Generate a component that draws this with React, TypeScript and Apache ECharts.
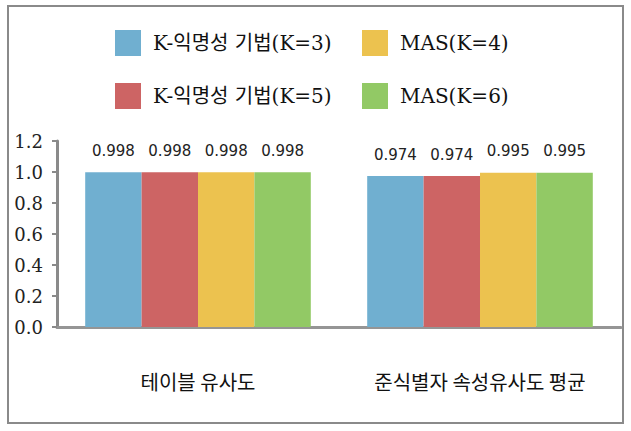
import React, { useEffect, useRef } from "react";
import * as echarts from "echarts";

const categories = ["테이블 유사도", "준식별자 속성유사도 평균"];
const seriesNames = ["K-익명성 기법(K=3)", "K-익명성 기법(K=5)", "MAS(K=4)", "MAS(K=6)"];
const k3Values = [0.998, 0.974];
const k5Values = [0.998, 0.974];
const mas4Values = [0.998, 0.995];
const mas6Values = [0.998, 0.995];
const colors = ["#70AFD0", "#CD6464", "#ECC24F", "#92C965"];

const serif = "'DejaVu Serif', 'Noto Sans CJK KR', serif";
const sans = "'DejaVu Sans', 'Noto Sans CJK KR', sans-serif";
const kr = "'Noto Sans CJK KR', sans-serif";

export default function App() {
  const ref = useRef<HTMLDivElement>(null);
  useEffect(() => {
    document.body.style.margin = "0";
    const chart = echarts.init(ref.current!, null, { renderer: "svg" });
    const values = [k3Values, k5Values, mas4Values, mas6Values];
    const legendPos = [
      { left: 115, top: 30 },
      { left: 115, top: 83 },
      { left: 362, top: 30 },
      { left: 362, top: 83 },
    ];
    chart.setOption({
      animation: false,
      backgroundColor: "#fff",
      color: colors,
      graphic: [
        {
          type: "rect",
          shape: { x: 8, y: 6, width: 615, height: 417 },
          style: { fill: "none", stroke: "#8a8a8a", lineWidth: 2 },
        },
      ],
      legend: seriesNames.map((n, i) => ({
        data: [n],
        left: legendPos[i].left,
        top: legendPos[i].top,
        itemWidth: 26,
        itemHeight: 26,
        itemGap: 0,
        padding: 0,
        icon: "rect",
        selectedMode: false,
        textStyle: { fontFamily: serif, fontSize: 20, color: "#111", padding: [0, 0, 0, 7] },
      })),
      grid: { left: 57, right: 10, top: 141, bottom: 104 },
      xAxis: {
        type: "category",
        data: categories,
        axisLine: { lineStyle: { color: "#959595", width: 3 } },
        axisTick: { show: false },
        axisLabel: { fontFamily: kr, fontSize: 20, color: "#111", margin: 44 },
      },
      yAxis: {
        type: "value",
        min: 0,
        max: 1.2,
        interval: 0.2,
        splitLine: { show: false },
        axisLine: { show: true, lineStyle: { color: "#8a8a8a", width: 3 } },
        axisTick: { show: true, length: 5, lineStyle: { color: "#8a8a8a", width: 2 } },
        axisLabel: {
          fontFamily: serif,
          fontSize: 18,
          color: "#222",
          margin: 14,
          formatter: (v: number) => v.toFixed(1),
        },
      },
      series: seriesNames.map((n, i) => ({
        name: n,
        type: "bar",
        data: values[i],
        barGap: "0%",
        barCategoryGap: "20%",
        z: 1,
        label: {
          show: true,
          position: "top",
          distance: 14,
          fontFamily: sans,
          fontSize: 15,
          color: "#222",
          formatter: (p: any) => p.value.toFixed(3),
        },
      })),
    });
    return () => chart.dispose();
  }, []);
  return <div ref={ref} style={{ width: 631, height: 431 }} />;
}
